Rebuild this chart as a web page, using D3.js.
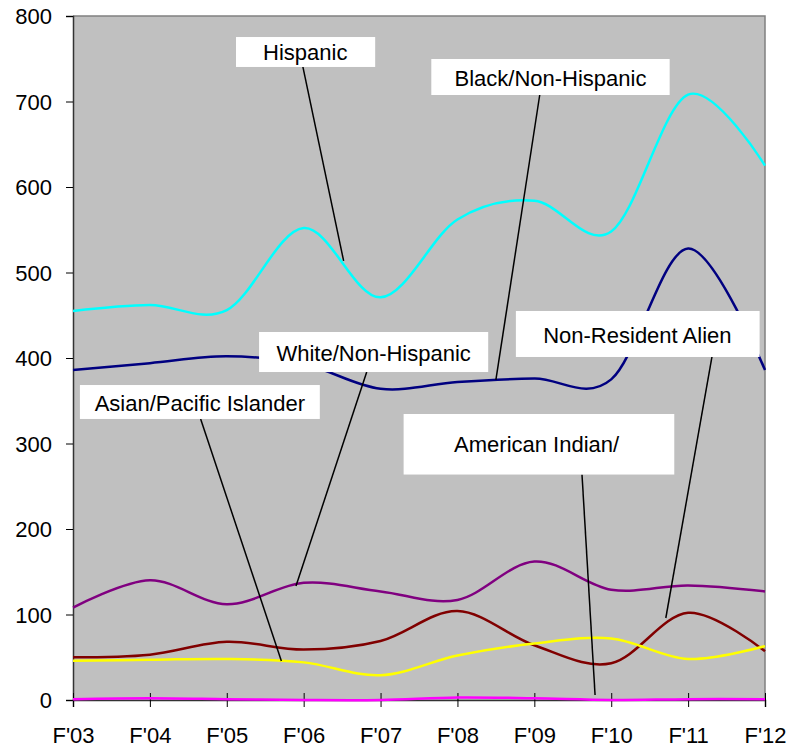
<!DOCTYPE html>
<html>
<head>
<meta charset="utf-8">
<script src="https://cdn.jsdelivr.net/npm/d3@7"></script>
<style>
  body { margin: 0; background: #fff; }
  text { font-family: "Liberation Sans", Arial, sans-serif; font-size: 22px; fill: #000; }
</style>
</head>
<body>
<div id="chart"></div>
<script>
// fiscal years along the bottom
let years = ["F'03", "F'04", "F'05", "F'06", "F'07", "F'08", "F'09", "F'10", "F'11", "F'12"];
let yTicks = [0, 100, 200, 300, 400, 500, 600, 700, 800];

// enrollment by group
let hispanic   = [455, 462, 456, 552, 471, 562, 584, 548, 708, 625];
let black      = [386, 394, 402, 393, 364, 372, 376, 375, 528, 386];
let white      = [108, 140, 112, 137, 127, 117, 162, 129, 134, 127];
let asian      = [46, 47, 48, 44, 29, 52, 66, 72, 48, 63];
let nonRes     = [50, 53, 68, 59, 69, 104, 64, 43, 102, 57];
let amIndian   = [1, 2, 1, 0, 0, 3, 2, 0, 1, 1];

let series = [
  { name: "White/Non-Hispanic", values: white, color: "#800080" },
  { name: "Non-Resident Alien", values: nonRes, color: "#800000" },
  { name: "Asian/Pacific Islander", values: asian, color: "#ffff00" },
  { name: "Black/Non-Hispanic", values: black, color: "#000080" },
  { name: "Hispanic", values: hispanic, color: "#00ffff" },
  { name: "American Indian/", values: amIndian, color: "#ff00ff" }
];

// callouts, in data units: box [i0, i1, vTop, vBottom], text at [i, v], pointer from -> to
let callouts = [
  { text: "Hispanic", box: [2.12, 3.93, 775.4, 740.4], at: [3.02, 748.5], from: [2.99, 740.4], to: [3.52, 513.5] },
  { text: "Black/Non-Hispanic", box: [4.66, 7.76, 749.7, 707.6], at: [6.21, 718.1], from: [6.07, 707.6], to: [5.50, 374.3] },
  { text: "White/Non-Hispanic", box: [2.42, 5.40, 430.4, 383.6], at: [3.91, 396.5], from: [3.82, 383.6], to: [2.90, 133.3] },
  { text: "Non-Resident Alien", box: [5.76, 8.93, 455.0, 401.2], at: [7.34, 418.1], from: [8.31, 401.2], to: [7.71, 95.9] },
  { text: "Asian/Pacific Islander", box: [0.09, 3.21, 368.4, 328.7], at: [1.65, 338.4], from: [1.66, 328.7], to: [2.71, 45.6] },
  { text: "American Indian/", box: [4.30, 7.82, 334.5, 263.7], at: [6.03, 290.4], from: [6.62, 263.7], to: [6.79, 5.8] }
];

let margin = { top: 16, right: 24, bottom: 49, left: 73 },
    width = 789 - margin.left - margin.right,
    height = 749 - margin.top - margin.bottom;

let svg = d3.select("#chart")
    .append("svg")
    .attr("width", 789)
    .attr("height", 749)
    .append("g")
    .attr("transform", `translate(${margin.left},${margin.top})`);

let x = d3.scaleLinear().domain([0, years.length - 1]).range([0, width]);
let y = d3.scaleLinear().domain([0, 800]).range([height, 0]);

// plot background
svg.append("rect")
    .attr("width", width)
    .attr("height", height)
    .attr("fill", "#c0c0c0");

// top and right border
svg.append("path")
    .attr("d", `M0,0H${width}V${height}`)
    .attr("fill", "none")
    .attr("stroke", "#808080")
    .attr("stroke-width", 1.5);

// y axis
let yAxis = svg.append("g")
    .call(d3.axisLeft(y).tickValues(yTicks).tickSize(7).tickPadding(14));
yAxis.select(".domain").attr("stroke", "#333").attr("stroke-width", 1.5);
yAxis.selectAll(".tick text").attr("dy", "0.36em").style("font-size", "22px")
    .style("font-family", "'Liberation Sans', Arial, sans-serif");

// x axis with ticks crossing the line
let xAxis = svg.append("g")
    .attr("transform", `translate(0,${height})`)
    .call(d3.axisBottom(x).tickValues(d3.range(years.length)).tickFormat(i => years[i]).tickSize(7));
xAxis.select(".domain").attr("stroke", "#333").attr("stroke-width", 1.5);
xAxis.selectAll(".tick line").attr("y1", -7);
xAxis.selectAll(".tick text").attr("y", 43).attr("dy", null).style("font-size", "22px")
    .style("font-family", "'Liberation Sans', Arial, sans-serif");

// smoothed lines
let line = d3.line()
    .x((d, i) => x(i))
    .y(d => y(d))
    .curve(d3.curveCardinal.tension(0));

svg.selectAll(".series")
    .data(series)
    .enter()
    .append("path")
    .attr("class", "series")
    .attr("d", d => line(d.values))
    .attr("fill", "none")
    .attr("stroke", d => d.color)
    .attr("stroke-width", 2.5);

// callouts
let c = svg.selectAll(".callout")
    .data(callouts)
    .enter()
    .append("g")
    .attr("class", "callout");

c.append("line")
    .attr("x1", d => x(d.from[0]))
    .attr("y1", d => y(d.from[1]))
    .attr("x2", d => x(d.to[0]))
    .attr("y2", d => y(d.to[1]))
    .attr("stroke", "#000")
    .attr("stroke-width", 1.5);

c.append("rect")
    .attr("x", d => x(d.box[0]))
    .attr("y", d => y(d.box[2]))
    .attr("width", d => x(d.box[1]) - x(d.box[0]))
    .attr("height", d => y(d.box[3]) - y(d.box[2]))
    .attr("fill", "#fff");

c.append("text")
    .attr("x", d => x(d.at[0]))
    .attr("y", d => y(d.at[1]))
    .attr("text-anchor", "middle")
    .text(d => d.text);
</script>
</body>
</html>
